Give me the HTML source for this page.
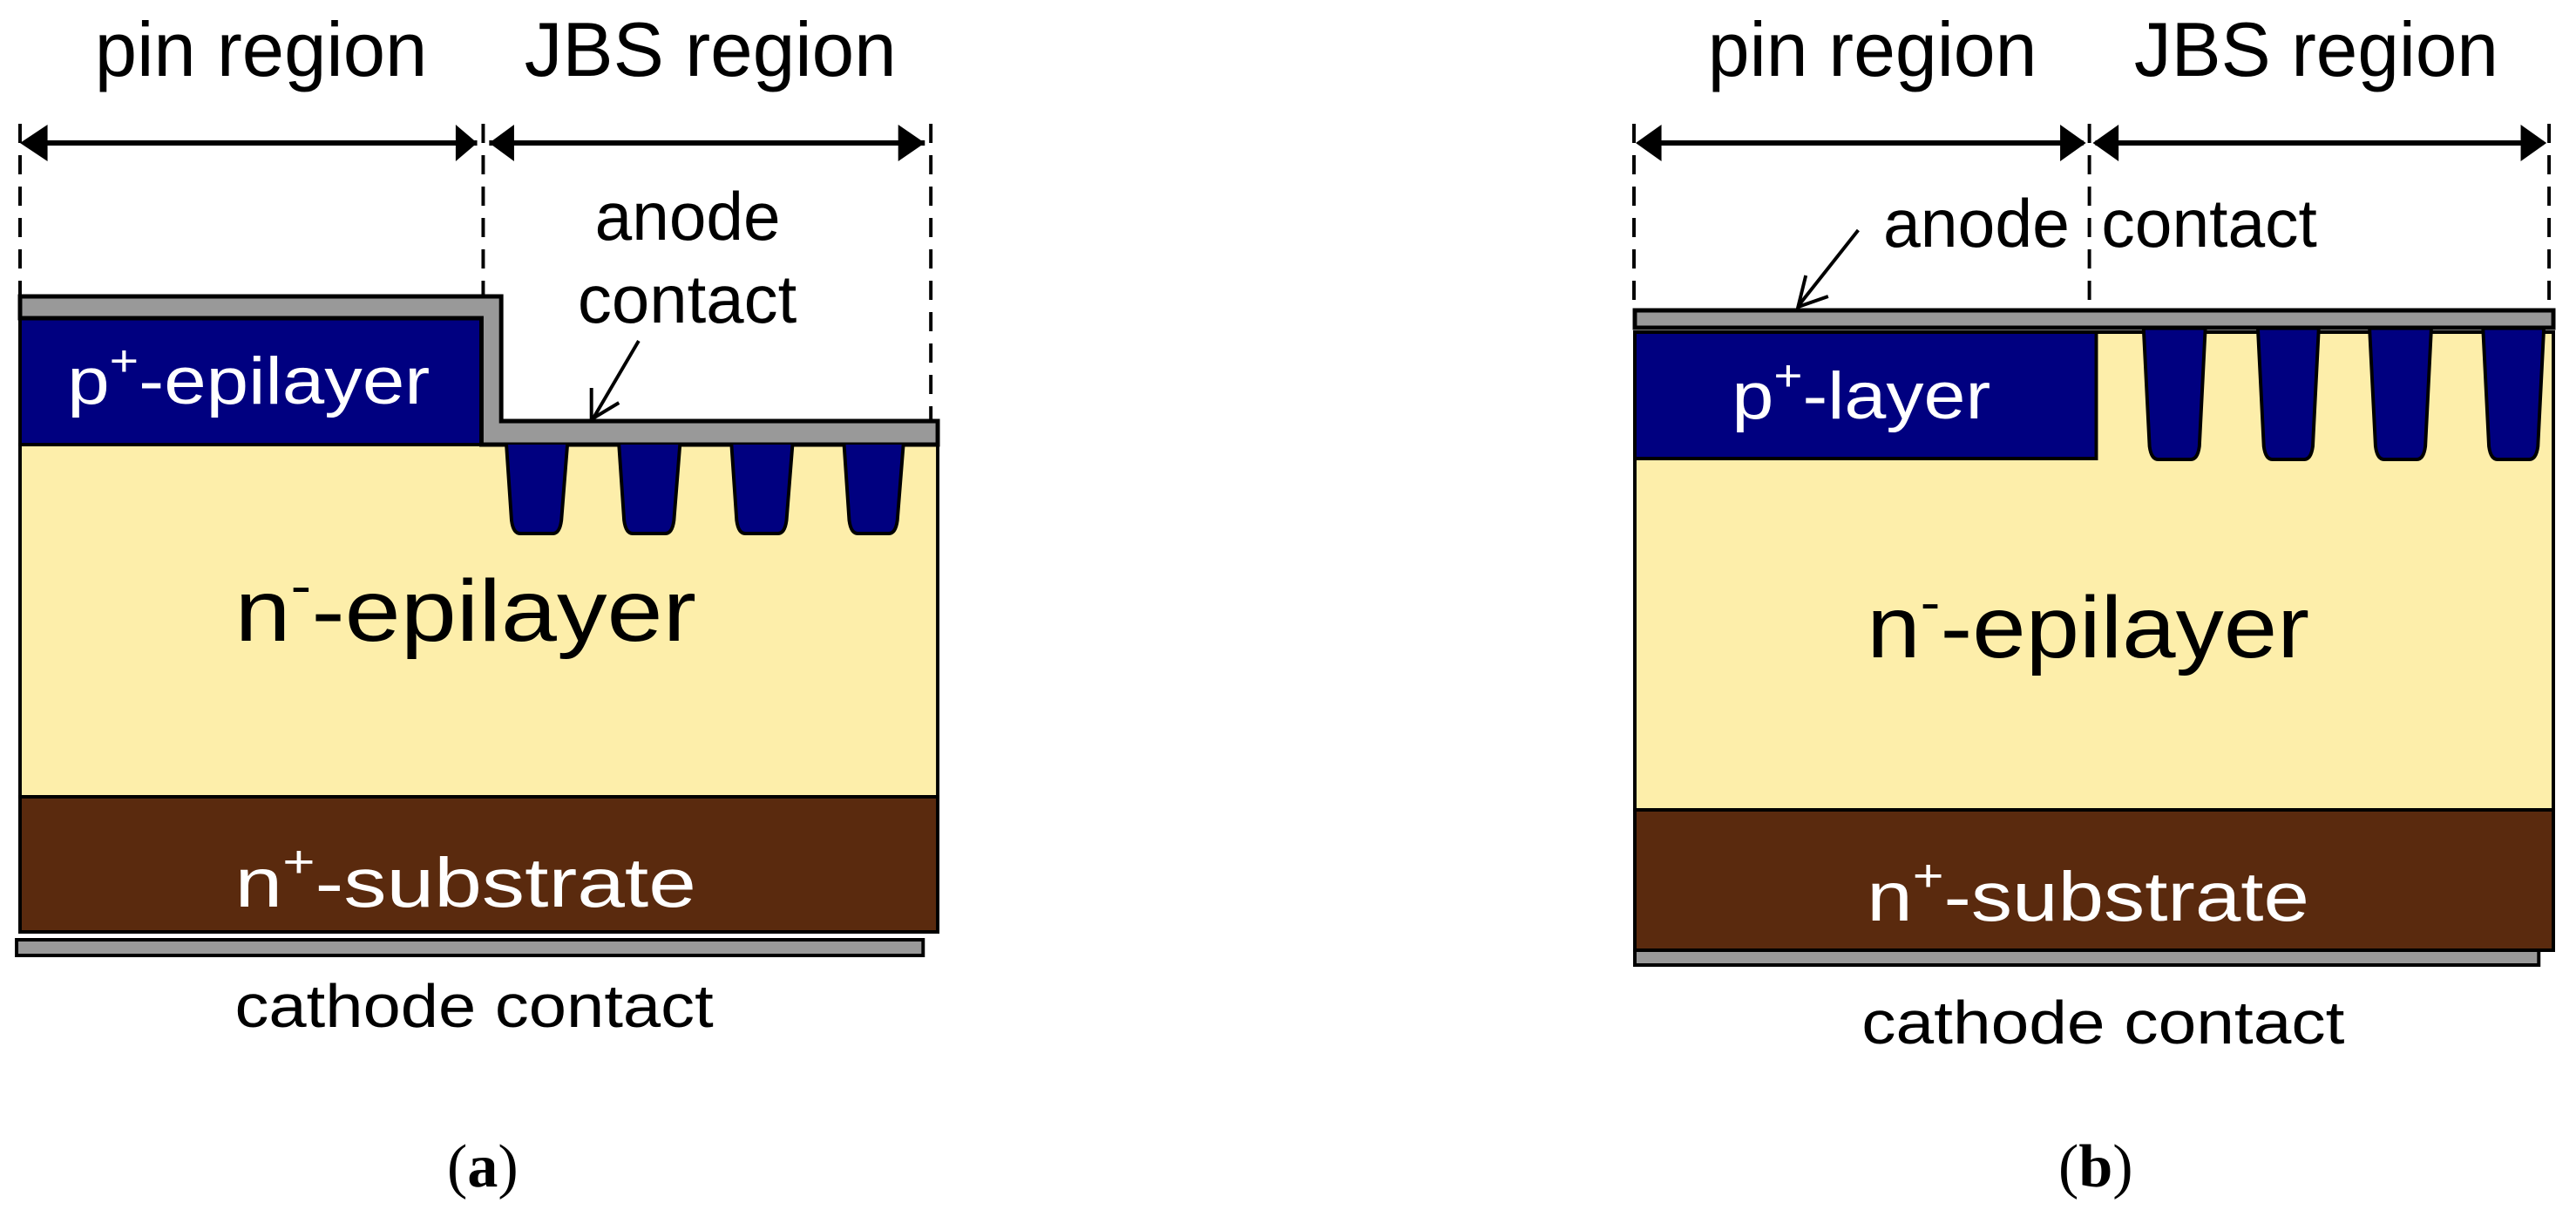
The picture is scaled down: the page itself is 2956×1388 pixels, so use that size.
<!DOCTYPE html>
<html><head><meta charset="utf-8"><style>html,body{margin:0;padding:0;background:#fff}svg{display:block}</style></head>
<body>
<svg width="2956" height="1388" viewBox="0 0 2956 1388" xmlns="http://www.w3.org/2000/svg" font-family="Liberation Sans, Arial, sans-serif">
<!-- panel a -->
<g transform="translate(23,0) scale(0.986,1) translate(-23,0)">
<g stroke="#000" stroke-width="4" stroke-dasharray="22,14" fill="none">
<line x1="23" y1="142" x2="23" y2="340"/><line x1="562" y1="142" x2="562" y2="340"/><line x1="1083" y1="142" x2="1083" y2="483"/>
</g>
<g stroke="#000" stroke-width="6">
<line x1="30" y1="164" x2="555" y2="164"/><line x1="569" y1="164" x2="1076" y2="164"/>
</g>
<g fill="#000">
<polygon points="23,164 55,143 55,185"/><polygon points="555,164 530,143 530,185"/>
<polygon points="569,164 598,143 598,185"/><polygon points="1076,164 1045,143 1045,185"/>
</g>
<g font-size="88" fill="#000">
<text x="110" y="87" textLength="387" lengthAdjust="spacingAndGlyphs">pin region</text>
<text x="610" y="87" textLength="433" lengthAdjust="spacingAndGlyphs">JBS region</text>
</g>
<rect x="23" y="510" width="1068" height="404" fill="#fdeeaa" stroke="#000" stroke-width="4"/>
<rect x="23" y="914" width="1068" height="155" fill="#5a2a0e" stroke="#000" stroke-width="4"/>
<rect x="19" y="1078" width="1055" height="18" fill="#999" stroke="#000" stroke-width="4"/>
<rect x="23" y="365" width="537" height="145" fill="#000080" stroke="#000" stroke-width="4"/>
<polygon points="23,340 583,340 583,483 1091,483 1091,510 560,510 560,365 23,365" fill="#999" stroke="#000" stroke-width="5"/>
<g fill="#000080" stroke="#000" stroke-width="4">
<path d="M589,510 L595,597 Q597,612 605,612 L643,612 Q651,612 653,597 L660,510"/>
<path d="M720,510 L726,597 Q728,612 736,612 L774,612 Q782,612 784,597 L791,510"/>
<path d="M851,510 L857,597 Q859,612 867,612 L905,612 Q913,612 915,597 L922,510"/>
<path d="M982,510 L988,597 Q990,612 998,612 L1034,612 Q1042,612 1044,597 L1051,510"/>
</g>
<text x="78" y="463" font-size="76" fill="#fff" textLength="422" lengthAdjust="spacingAndGlyphs">p<tspan dy="-32" font-size="50">+</tspan><tspan dy="32">-epilayer</tspan></text>
<text x="273" y="735" font-size="100" fill="#000" textLength="537" lengthAdjust="spacingAndGlyphs">n<tspan dy="-42" font-size="62">-</tspan><tspan dy="42">-epilayer</tspan></text>
<text x="273" y="1040" font-size="80" fill="#fff" textLength="537" lengthAdjust="spacingAndGlyphs">n<tspan dy="-34" font-size="52">+</tspan><tspan dy="34">-substrate</tspan></text>
<text x="273" y="1178" font-size="70" fill="#000" textLength="557" lengthAdjust="spacingAndGlyphs">cathode contact</text>
<text x="692" y="275" font-size="78" fill="#000" textLength="216" lengthAdjust="spacingAndGlyphs">anode</text>
<text x="672" y="370" font-size="78" fill="#000" textLength="255" lengthAdjust="spacingAndGlyphs">contact</text>
<line x1="743" y1="391" x2="690" y2="480" stroke="#000" stroke-width="4"/>
<polyline points="688,445 688,481 720,462" fill="none" stroke="#000" stroke-width="4"/>
</g>
<text x="513" y="1361" font-family="Liberation Serif, serif" font-size="70" fill="#000">(<tspan font-weight="bold">a</tspan>)</text>
<!-- panel b -->
<g transform="translate(1876,0) scale(0.986,1) translate(-1879,0)">
<g stroke="#000" stroke-width="4" stroke-dasharray="22,14" fill="none">
<line x1="1878" y1="142" x2="1878" y2="357"/><line x1="2408" y1="142" x2="2408" y2="357"/><line x1="2943" y1="142" x2="2943" y2="357"/>
</g>
<g stroke="#000" stroke-width="6">
<line x1="1885" y1="164" x2="2401" y2="164"/><line x1="2415" y1="164" x2="2936" y2="164"/>
</g>
<g fill="#000">
<polygon points="1880,164 1910,143 1910,185"/><polygon points="2404,164 2374,143 2374,185"/>
<polygon points="2412,164 2442,143 2442,185"/><polygon points="2940,164 2910,143 2910,185"/>
</g>
<g font-size="88" fill="#000">
<text x="1964" y="87" textLength="383" lengthAdjust="spacingAndGlyphs">pin region</text>
<text x="2460" y="87" textLength="424" lengthAdjust="spacingAndGlyphs">JBS region</text>
</g>
<rect x="1879" y="381" width="1069" height="548" fill="#fdeeaa" stroke="#000" stroke-width="4"/>
<rect x="1879" y="929" width="1069" height="161" fill="#5a2a0e" stroke="#000" stroke-width="4"/>
<rect x="1879" y="1090" width="1052" height="17" fill="#999" stroke="#000" stroke-width="4"/>
<rect x="1879" y="381" width="537" height="145" fill="#000080" stroke="#000" stroke-width="4"/>
<g fill="#000080" stroke="#000" stroke-width="4">
<path d="M2471,375 L2478,512 Q2480,527 2488,527 L2526,527 Q2534,527 2536,512 L2543,375"/>
<path d="M2604,375 L2611,512 Q2613,527 2621,527 L2658,527 Q2666,527 2668,512 L2675,375"/>
<path d="M2734,375 L2741,512 Q2743,527 2751,527 L2789,527 Q2797,527 2799,512 L2806,375"/>
<path d="M2866,375 L2873,512 Q2875,527 2883,527 L2920,527 Q2928,527 2930,512 L2937,375"/>
</g>
<rect x="1879" y="356" width="1069" height="20" fill="#999" stroke="#000" stroke-width="5"/>
<text x="1992" y="480" font-size="76" fill="#fff" textLength="301" lengthAdjust="spacingAndGlyphs">p<tspan dy="-32" font-size="50">+</tspan><tspan dy="32">-layer</tspan></text>
<text x="2149" y="754" font-size="100" fill="#000" textLength="515" lengthAdjust="spacingAndGlyphs">n<tspan dy="-42" font-size="62">-</tspan><tspan dy="42">-epilayer</tspan></text>
<text x="2149" y="1056" font-size="80" fill="#fff" textLength="515" lengthAdjust="spacingAndGlyphs">n<tspan dy="-34" font-size="52">+</tspan><tspan dy="34">-substrate</tspan></text>
<text x="2143" y="1197" font-size="70" fill="#000" textLength="562" lengthAdjust="spacingAndGlyphs">cathode contact</text>
<text x="2168" y="283" font-size="78" fill="#000" textLength="217" lengthAdjust="spacingAndGlyphs">anode</text>
<text x="2422" y="283" font-size="78" fill="#000" textLength="251" lengthAdjust="spacingAndGlyphs">contact</text>
<line x1="2139" y1="264" x2="2070" y2="350" stroke="#000" stroke-width="4"/>
<polyline points="2078,316 2069,352 2104,340" fill="none" stroke="#000" stroke-width="4"/>
</g>
<text x="2362" y="1361" font-family="Liberation Serif, serif" font-size="70" fill="#000">(<tspan font-weight="bold">b</tspan>)</text>
</svg>
</body></html>
